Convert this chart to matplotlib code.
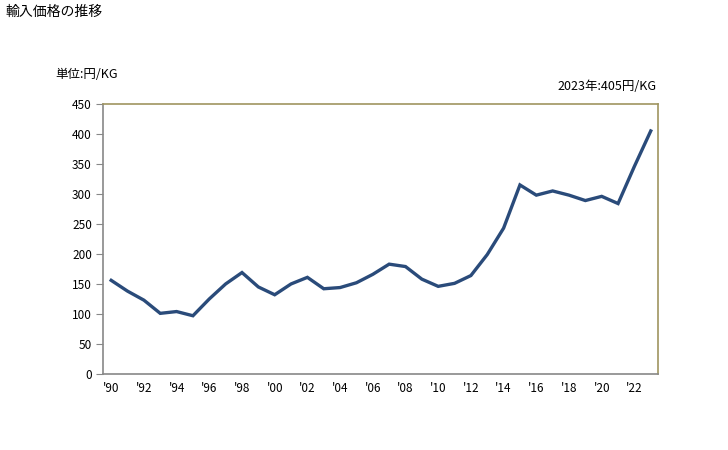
import matplotlib
matplotlib.use('Agg')
import matplotlib.pyplot as plt

plt.rcParams['font.family'] = ['Noto Sans CJK JP', 'DejaVu Sans']

years = list(range(1990, 2024))
prices = [156, 138, 123, 101, 104, 97, 125, 150, 169, 145,
          132, 150, 161, 142, 144, 152, 166, 183, 179, 158,
          146, 151, 164, 199, 243, 315, 298, 305, 298, 289,
          296, 284, 346, 405]
tick_years = list(range(1990, 2023, 2))
tick_labels = ["'%02d" % (y % 100) for y in tick_years]
yticks = list(range(0, 451, 50))

fig = plt.figure(figsize=(7.28, 4.5), dpi=100)
ax = fig.add_axes([0.1415, 0.169, 0.7625, 0.6])

ax.plot(years, prices, color='#2a4b7a', linewidth=2.4, solid_joinstyle='miter')

ax.set_xlim(1989.5, 2023.45)
ax.set_ylim(0, 450)
ax.set_xticks(tick_years)
ax.set_xticklabels(tick_labels)
ax.set_yticks(yticks)
ax.tick_params(axis='x', length=0, labelsize=8.5, pad=6)
ax.tick_params(axis='y', length=5, color='#888888', labelsize=8.5, pad=3)

for s in ['left', 'bottom']:
    ax.spines[s].set_color('#888888')
    ax.spines[s].set_linewidth(1.2)
for s in ['top', 'right']:
    ax.spines[s].set_color('#a09560')
    ax.spines[s].set_linewidth(1.2)

fig.text(5 / 728, 1 - 12 / 450, '輸入価格の推移', fontsize=10, va='center', ha='left')
fig.text(55 / 728, 1 - 75 / 450, '単位:円/KG', fontsize=9, va='center', ha='left')
fig.text(656 / 728, 1 - 86 / 450, '2023年:405円/KG', fontsize=9, va='center', ha='right')

fig.savefig('out.png', dpi=100)
